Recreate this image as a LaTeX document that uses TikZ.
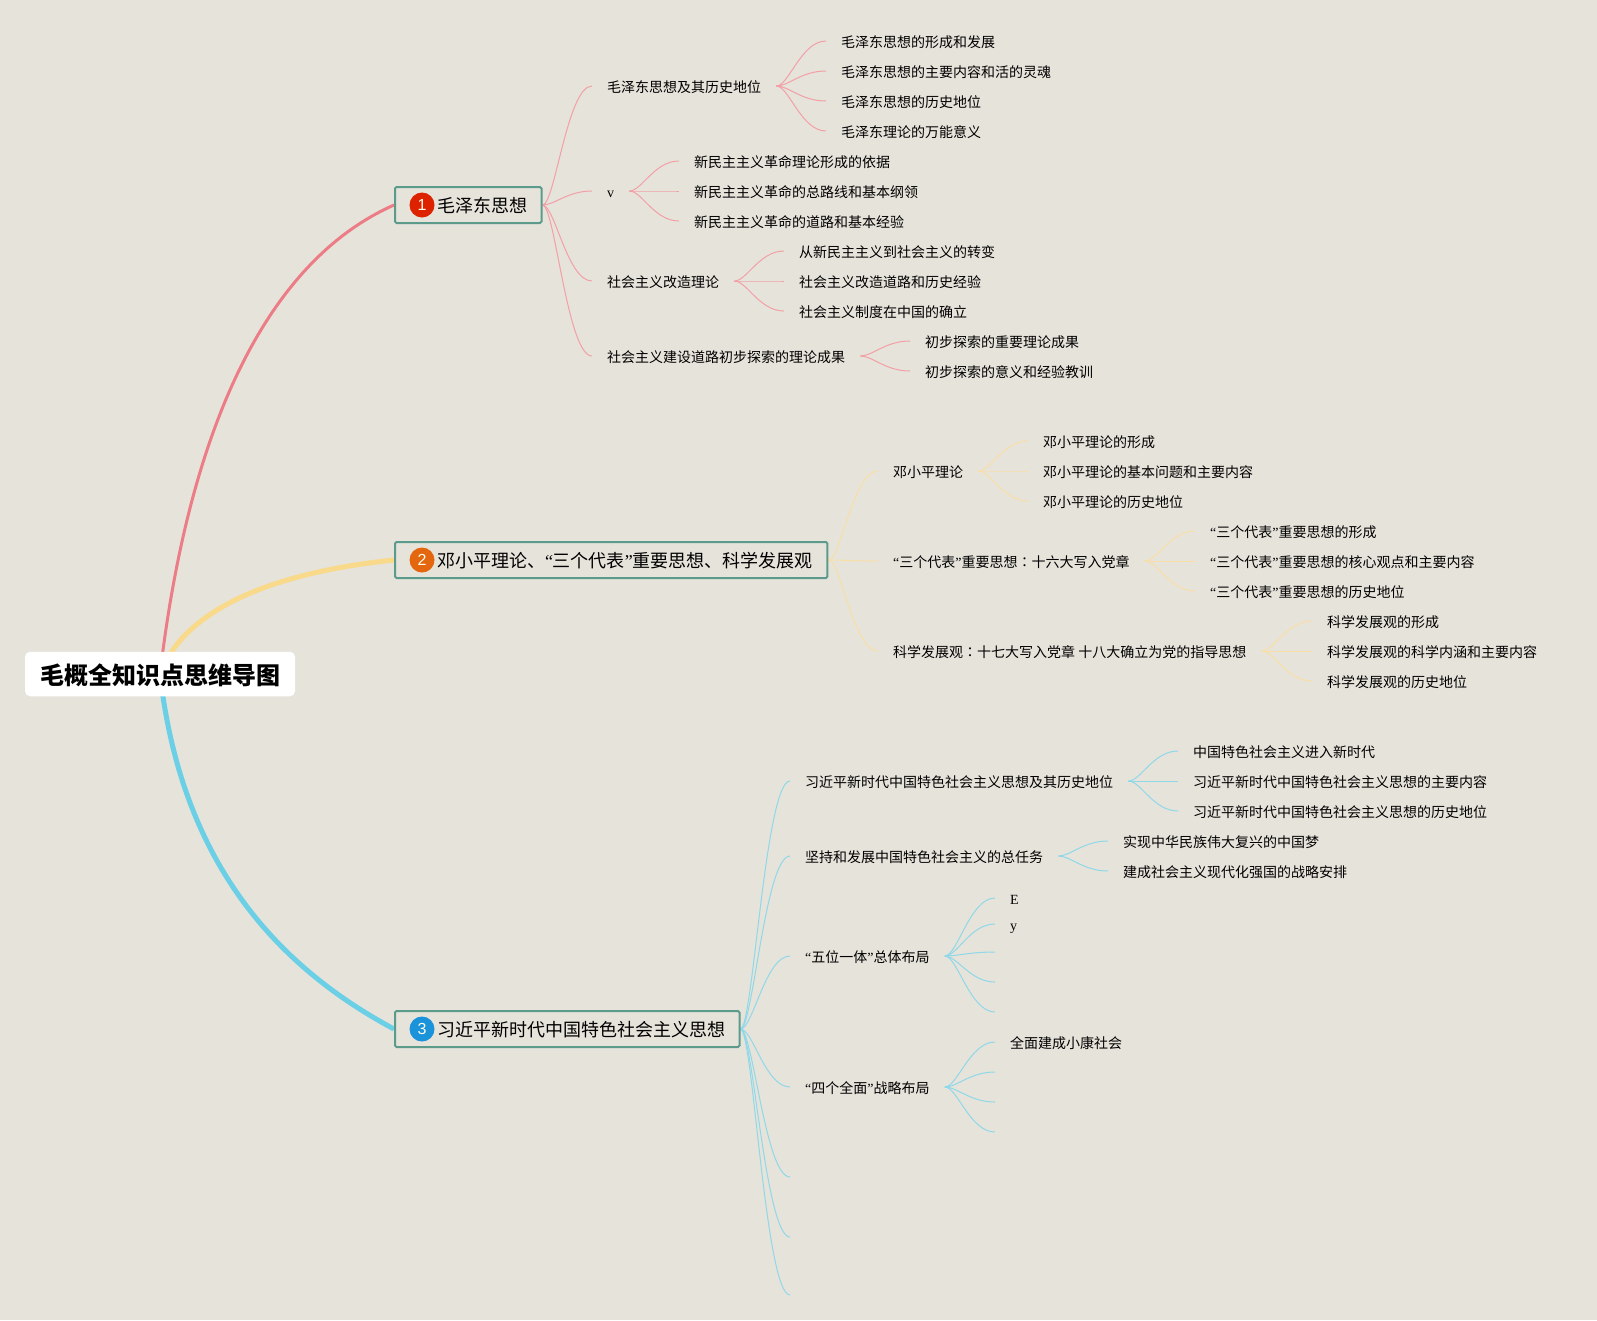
\documentclass[tikz,border=0pt]{standalone}
\usepackage{fontspec}
\setmainfont{Noto Sans CJK SC}
\newfontfamily\latn{Liberation Serif}
\newfontfamily\digitfont{Liberation Sans}
\newfontfamily\tcfont{Noto Sans CJK TC}
\usetikzlibrary{calc,backgrounds}
\newcommand{\ql}{{\latn “}}
\newcommand{\qr}{{\latn ”}}
\newcommand{\cl}{{\tcfont ：}}
\definecolor{pagebg}{HTML}{E6E3DB}
\definecolor{boxline}{HTML}{5C9A8C}
\definecolor{redmain}{HTML}{EC7C85}
\definecolor{yellowmain}{HTML}{F9D98A}
\definecolor{bluemain}{HTML}{6BCFE6}
\definecolor{redthin}{HTML}{F2A0A6}
\definecolor{yellowthin}{HTML}{F9DFA6}
\definecolor{bluethin}{HTML}{8FD8E8}
\definecolor{badgered}{HTML}{DD2200}
\definecolor{badgeorange}{HTML}{E4670F}
\definecolor{badgeblue}{HTML}{1B93DB}
\tikzset{
	rootbox/.style={fill=white,rounded corners=5,inner xsep=15,inner ysep=0,minimum height=44.5,text height=23,text depth=3,font=\fontsize{24}{28}\selectfont\bfseries},
	topicbox/.style={draw=boxline,line width=2,rounded corners=1.5,anchor=west,inner xsep=14.5,inner ysep=0,minimum height=36,text height=17,text depth=2,font=\fontsize{18}{22}\selectfont,execute at begin node={\hspace*{27.5pt}}},
	badge/.style={circle,inner sep=0,minimum size=25,text=white!92!yellow,font=\digitfont\fontsize{16}{18}\selectfont},
	leaf/.style={anchor=west,inner xsep=15,inner ysep=0,text height=15,text depth=3,font=\fontsize{14}{16}\selectfont},
	twig/.style={line width=1,to path={.. controls ($(\tikztostart)!.25!(\tikztostart -| \tikztotarget)$) and ($(\tikztotarget)!.5!(\tikztotarget -| \tikztostart)$) .. (\tikztotarget)}}
}
\begin{document}
\begin{tikzpicture}[x=1pt,y=-1pt]
	\useasboundingbox (0,0) rectangle (1597,1320);
	\node (root) [rootbox] at (160,674) {毛概全知识点思维导图};
	\node (mao) [topicbox] at (394,205) {毛泽东思想};
	\node (deng) [topicbox] at (394,560) {邓小平理论、\ql 三个代表\qr 重要思想、科学发展观};
	\node (xi) [topicbox] at (394,1029) {习近平新时代中国特色社会主义思想};
	\node (one) [badge,fill=badgered] at (422,205) {1};
	\node (two) [badge,fill=badgeorange] at (422,560) {2};
	\node (three) [badge,fill=badgeblue] at (422,1029) {3};
	\node (maoa) [leaf] at (592,86) {毛泽东思想及其历史地位};
	\node (maoa1) [leaf] at (826,41) {毛泽东思想的形成和发展};
	\node (maoa2) [leaf] at (826,71) {毛泽东思想的主要内容和活的灵魂};
	\node (maoa3) [leaf] at (826,101) {毛泽东思想的历史地位};
	\node (maoa4) [leaf] at (826,131) {毛泽东理论的万能意义};
	\node (maob) [leaf] at (592,191) {\latn v};
	\node (maob1) [leaf] at (679,161) {新民主主义革命理论形成的依据};
	\node (maob2) [leaf] at (679,191) {新民主主义革命的总路线和基本纲领};
	\node (maob3) [leaf] at (679,221) {新民主主义革命的道路和基本经验};
	\node (maoc) [leaf] at (592,281) {社会主义改造理论};
	\node (maoc1) [leaf] at (784,251) {从新民主主义到社会主义的转变};
	\node (maoc2) [leaf] at (784,281) {社会主义改造道路和历史经验};
	\node (maoc3) [leaf] at (784,311) {社会主义制度在中国的确立};
	\node (maod) [leaf] at (592,356) {社会主义建设道路初步探索的理论成果};
	\node (maod1) [leaf] at (910,341) {初步探索的重要理论成果};
	\node (maod2) [leaf] at (910,371) {初步探索的意义和经验教训};
	\node (denga) [leaf] at (878,471) {邓小平理论};
	\node (denga1) [leaf] at (1028,441) {邓小平理论的形成};
	\node (denga2) [leaf] at (1028,471) {邓小平理论的基本问题和主要内容};
	\node (denga3) [leaf] at (1028,501) {邓小平理论的历史地位};
	\node (dengb) [leaf] at (878,561) {\ql 三个代表\qr 重要思想\cl 十六大写入党章};
	\node (dengb1) [leaf] at (1195,531) {\ql 三个代表\qr 重要思想的形成};
	\node (dengb2) [leaf] at (1195,561) {\ql 三个代表\qr 重要思想的核心观点和主要内容};
	\node (dengb3) [leaf] at (1195,591) {\ql 三个代表\qr 重要思想的历史地位};
	\node (dengc) [leaf] at (878,651) {科学发展观\cl 十七大写入党章 十八大确立为党的指导思想};
	\node (dengc1) [leaf] at (1312,621) {科学发展观的形成};
	\node (dengc2) [leaf] at (1312,651) {科学发展观的科学内涵和主要内容};
	\node (dengc3) [leaf] at (1312,681) {科学发展观的历史地位};
	\node (xia) [leaf] at (790,781) {习近平新时代中国特色社会主义思想及其历史地位};
	\node (xia1) [leaf] at (1178,751) {中国特色社会主义进入新时代};
	\node (xia2) [leaf] at (1178,781) {习近平新时代中国特色社会主义思想的主要内容};
	\node (xia3) [leaf] at (1178,811) {习近平新时代中国特色社会主义思想的历史地位};
	\node (xib) [leaf] at (790,856) {坚持和发展中国特色社会主义的总任务};
	\node (xib1) [leaf] at (1108,841) {实现中华民族伟大复兴的中国梦};
	\node (xib2) [leaf] at (1108,871) {建成社会主义现代化强国的战略安排};
	\node (xic) [leaf] at (790,956) {\ql 五位一体\qr 总体布局};
	\node (xic1) [leaf] at (995,898) {\latn E};
	\node (xic2) [leaf] at (995,924) {\latn y};
	\node (xic3) [leaf] at (995,952) {};
	\node (xic4) [leaf] at (995,982) {};
	\node (xic5) [leaf] at (995,1012) {};
	\node (xid) [leaf] at (790,1087) {\ql 四个全面\qr 战略布局};
	\node (xid1) [leaf] at (995,1042) {全面建成小康社会};
	\node (xid2) [leaf] at (995,1072) {};
	\node (xid3) [leaf] at (995,1102) {};
	\node (xid4) [leaf] at (995,1132) {};
	\node (xie) [leaf] at (790,1177) {};
	\node (xif) [leaf] at (790,1237) {};
	\node (xig) [leaf] at (790,1295) {};
	\begin{scope}[on background layer]
		\fill[pagebg] (0,0) rectangle (1597,1320);
		\draw[redmain,line width=3] (root.center) .. controls (190,420) and (270,260) .. (mao.west);
		\draw[yellowmain,line width=5] (root.center) .. controls (180,620) and (250,575) .. (deng.west);
		\draw[bluemain,line width=5] (root.center) .. controls (180,850) and (265,960) .. (xi.west);
		\draw[redthin,twig] (mao.east) to (maoa.west);
		\draw[redthin,twig] (mao.east) to (maob.west);
		\draw[redthin,twig] (mao.east) to (maoc.west);
		\draw[redthin,twig] (mao.east) to (maod.west);
		\draw[redthin,twig] (maoa.east) to (maoa1.west);
		\draw[redthin,twig] (maoa.east) to (maoa2.west);
		\draw[redthin,twig] (maoa.east) to (maoa3.west);
		\draw[redthin,twig] (maoa.east) to (maoa4.west);
		\draw[redthin,twig] (maob.east) to (maob1.west);
		\draw[redthin,twig] (maob.east) to (maob2.west);
		\draw[redthin,twig] (maob.east) to (maob3.west);
		\draw[redthin,twig] (maoc.east) to (maoc1.west);
		\draw[redthin,twig] (maoc.east) to (maoc2.west);
		\draw[redthin,twig] (maoc.east) to (maoc3.west);
		\draw[redthin,twig] (maod.east) to (maod1.west);
		\draw[redthin,twig] (maod.east) to (maod2.west);
		\draw[yellowthin,twig] (deng.east) to (denga.west);
		\draw[yellowthin,twig] (deng.east) to (dengb.west);
		\draw[yellowthin,twig] (deng.east) to (dengc.west);
		\draw[yellowthin,twig] (denga.east) to (denga1.west);
		\draw[yellowthin,twig] (denga.east) to (denga2.west);
		\draw[yellowthin,twig] (denga.east) to (denga3.west);
		\draw[yellowthin,twig] (dengb.east) to (dengb1.west);
		\draw[yellowthin,twig] (dengb.east) to (dengb2.west);
		\draw[yellowthin,twig] (dengb.east) to (dengb3.west);
		\draw[yellowthin,twig] (dengc.east) to (dengc1.west);
		\draw[yellowthin,twig] (dengc.east) to (dengc2.west);
		\draw[yellowthin,twig] (dengc.east) to (dengc3.west);
		\draw[bluethin,twig] (xi.east) to (xia.west);
		\draw[bluethin,twig] (xi.east) to (xib.west);
		\draw[bluethin,twig] (xi.east) to (xic.west);
		\draw[bluethin,twig] (xi.east) to (xid.west);
		\draw[bluethin,twig] (xi.east) to (xie.west);
		\draw[bluethin,twig] (xi.east) to (xif.west);
		\draw[bluethin,twig] (xi.east) to (xig.west);
		\draw[bluethin,twig] (xia.east) to (xia1.west);
		\draw[bluethin,twig] (xia.east) to (xia2.west);
		\draw[bluethin,twig] (xia.east) to (xia3.west);
		\draw[bluethin,twig] (xib.east) to (xib1.west);
		\draw[bluethin,twig] (xib.east) to (xib2.west);
		\draw[bluethin,twig] (xic.east) to (xic1.west);
		\draw[bluethin,twig] (xic.east) to (xic2.west);
		\draw[bluethin,twig] (xic.east) to (xic3.west);
		\draw[bluethin,twig] (xic.east) to (xic4.west);
		\draw[bluethin,twig] (xic.east) to (xic5.west);
		\draw[bluethin,twig] (xid.east) to (xid1.west);
		\draw[bluethin,twig] (xid.east) to (xid2.west);
		\draw[bluethin,twig] (xid.east) to (xid3.west);
		\draw[bluethin,twig] (xid.east) to (xid4.west);
	\end{scope}
\end{tikzpicture}
\end{document}
